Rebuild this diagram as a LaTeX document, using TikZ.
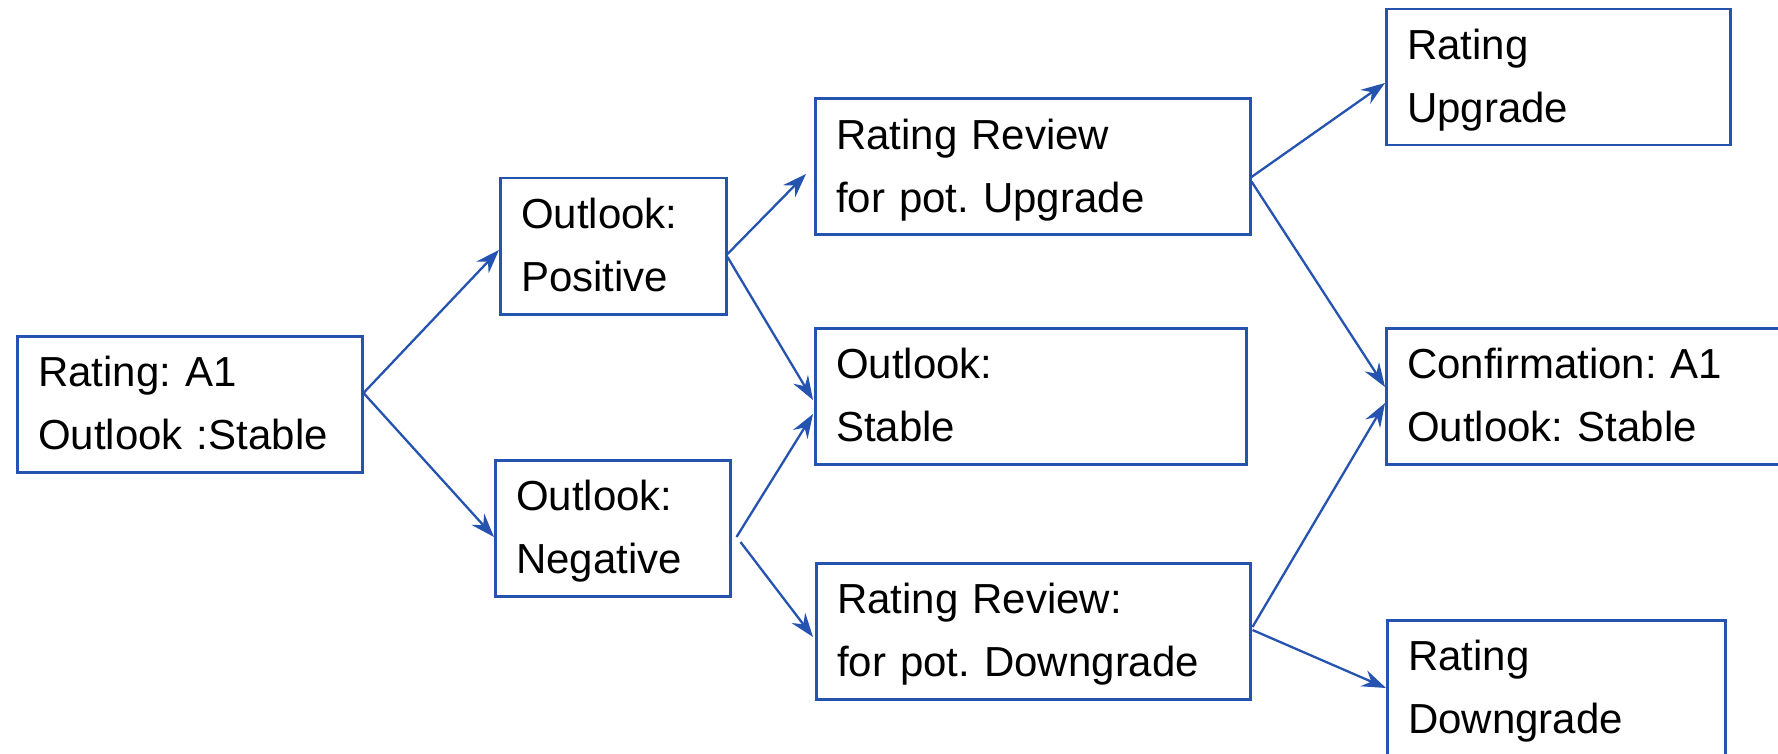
\documentclass[tikz,border=0pt]{standalone}
\usepackage{fontspec}
\setmainfont{Liberation Sans}
\usetikzlibrary{arrows.meta,calc}
\definecolor{lineblue}{RGB}{37,83,176}
\tikzset{
  box/.style={draw=lineblue, line width=2.5pt, anchor=north west, align=left,
    inner xsep=21pt, inner ysep=20.5pt, text height=30pt, text depth=65pt,
    font=\fontsize{42}{63}\selectfont\frenchspacing, text=black},
  link/.style={draw=lineblue, line width=2.3pt,
    -{Stealth[length=24pt, width=17pt, inset=8pt]}},
}
\begin{document}
\begin{tikzpicture}[x=1pt, y=-1pt]
\useasboundingbox (0,0) rectangle (1778,754);

% rating states
\node[box, text width=303pt] (ra)   at (16,335)   {Rating: A1\\Outlook :Stable};
\node[box, text width=184pt] (pos)  at (499,177)  {Outlook:\\Positive};
\node[box, text width=193pt] (neg)  at (494,459)  {Outlook:\\Negative};
\node[box, text width=393pt] (rru)  at (814,97.5) {Rating Review\\for pot. Upgrade};
\node[box, text width=389pt] (stb)  at (814,327)  {Outlook:\\Stable};
\node[box, text width=392pt] (rrd)  at (815,562)  {Rating Review:\\for pot. Downgrade};
\node[box, text width=302pt] (upg)  at (1385,8)   {Rating\\Upgrade};
\node[box, text width=388pt] (conf) at (1385,327) {Confirmation: A1\\Outlook: Stable};
\node[box, text width=296pt] (dng)  at (1386,619) {Rating\\Downgrade};

% transitions
\draw[link] ($(ra.north east)+(0,58)$)   -- ($(pos.north west)+(0,73)$);
\draw[link] ($(ra.north east)+(0,58)$)   -- ($(neg.north west)+(0,78)$);
\draw[link] ($(pos.north east)+(0,77)$)  -- ($(rru.north west)+(-8,76.5)$);
\draw[link] ($(pos.north east)+(0,80)$)  -- ($(stb.north west)+(-1,73)$);
\draw[link] ($(neg.north east)+(5,78)$)  -- ($(stb.north west)+(-1,87)$);
\draw[link] ($(neg.north east)+(9,83)$)  -- ($(rrd.north west)+(-2,75)$);
\draw[link] ($(rru.north east)+(0,79.5)$) -- ($(upg.north west)+(0,75)$);
\draw[link] ($(rru.north east)+(0,84)$)  -- ($(conf.north west)+(0,60)$);
\draw[link] ($(rrd.north east)+(1,65)$)  -- ($(conf.north west)+(0,76)$);
\draw[link] ($(rrd.north east)+(1,68)$)  -- ($(dng.north west)+(0,69)$);
\end{tikzpicture}
\end{document}
